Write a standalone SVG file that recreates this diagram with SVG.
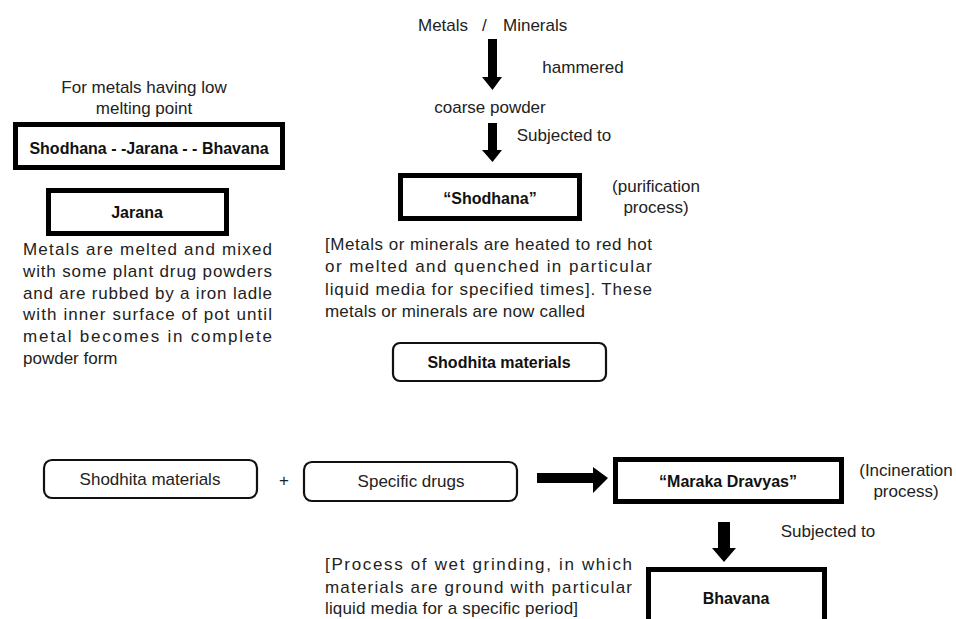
<svg xmlns="http://www.w3.org/2000/svg" width="956" height="619" viewBox="0 0 956 619">
<style>
text{font-family:"Liberation Sans",Arial,sans-serif;font-size:17px;fill:#222}
.c{text-anchor:middle}
.b{font-weight:bold;fill:#111;font-size:16px}
.thick{fill:#fff;stroke:#000;stroke-width:5}
.thin{fill:#fff;stroke:#111;stroke-width:2.2}
.arr{fill:#000}
</style>
<rect width="956" height="619" fill="#fff"/>
<g id="connectors">
<polygon class="arr" points="488,39 497,39 497,77 502,77 492.5,90 482,77 488,77"/>
<polygon class="arr" points="488,123 497,123 497,150 502,150 492.5,162 482,150 488,150"/>
<polygon class="arr" points="537,473 593,473 593,467 608,478 593,493 593,483 537,483"/>
<polygon class="arr" points="718,522 730,522 730,548 736,548 724,562 712,548 718,548"/>
</g>
<g id="metals-minerals"><text y="31"><tspan x="418">Metals</tspan><tspan x="482">/</tspan><tspan x="503">Minerals</tspan></text></g>
<g id="hammered"><text class="c" x="583" y="73">hammered</text></g>
<g id="coarse-powder"><text class="c" x="490" y="113">coarse powder</text></g>
<g id="subjected-1"><text class="c" x="564" y="141">Subjected to</text></g>
<g id="shodhana">
<rect class="thick" x="400.5" y="175.5" width="179" height="43"/>
<text class="c b" x="490" y="204">“Shodhana”</text>
</g>
<g id="purification"><text class="c" x="656" y="192">(purification</text><text class="c" x="656" y="213">process)</text></g>
<g id="shodhana-desc">
<text x="325" y="250" textLength="327" lengthAdjust="spacing">[Metals or minerals are heated to red hot</text>
<text x="325" y="272" textLength="327" lengthAdjust="spacing">or melted and quenched in particular</text>
<text x="325" y="295" textLength="327" lengthAdjust="spacing">liquid media for specified times]. These</text>
<text x="325" y="317" textLength="260" lengthAdjust="spacing">metals or minerals are now called</text>
</g>
<g id="shodhita-top">
<rect class="thin" x="393" y="343" width="213" height="38" rx="7"/>
<text class="c b" x="499" y="368">Shodhita materials</text>
</g>
<g id="low-melting"><text class="c" x="144" y="93">For metals having low</text><text class="c" x="144" y="114">melting point</text></g>
<g id="sjb">
<rect class="thick" x="15.5" y="124.5" width="267" height="43"/>
<text class="c b" x="149" y="154">Shodhana - -Jarana - - Bhavana</text>
</g>
<g id="jarana">
<rect class="thick" x="48.5" y="190.5" width="178" height="43"/>
<text class="c b" x="137" y="218">Jarana</text>
</g>
<g id="jarana-desc">
<text x="23" y="255" textLength="249" lengthAdjust="spacing">Metals are melted and mixed</text>
<text x="23" y="277" textLength="249" lengthAdjust="spacing">with some plant drug powders</text>
<text x="23" y="299" textLength="249" lengthAdjust="spacing">and are rubbed by a iron ladle</text>
<text x="23" y="320" textLength="249" lengthAdjust="spacing">with inner surface of pot until</text>
<text x="23" y="342" textLength="249" lengthAdjust="spacing">metal becomes in complete</text>
<text x="23" y="364">powder form</text>
</g>
<g id="shodhita-bottom">
<rect class="thin" x="44" y="460" width="213" height="38" rx="8"/>
<text class="c" x="150" y="485">Shodhita materials</text>
</g>
<g id="plus"><text class="c" x="284" y="486">+</text></g>
<g id="specific-drugs">
<rect class="thin" x="304" y="462" width="213" height="39" rx="8"/>
<text class="c" x="411" y="487">Specific drugs</text>
</g>
<g id="maraka">
<rect class="thick" x="615.5" y="459.5" width="226" height="42"/>
<text class="c b" x="728" y="487">“Maraka Dravyas”</text>
</g>
<g id="incineration"><text class="c" x="906" y="476">(Incineration</text><text class="c" x="906" y="497">process)</text></g>
<g id="subjected-2"><text class="c" x="828" y="537">Subjected to</text></g>
<g id="bhavana">
<rect class="thick" x="648.5" y="569.5" width="176" height="60"/>
<text class="c b" x="736" y="604">Bhavana</text>
</g>
<g id="bhavana-desc">
<text x="325" y="570" textLength="307" lengthAdjust="spacing">[Process of wet grinding, in which</text>
<text x="325" y="593" textLength="307" lengthAdjust="spacing">materials are ground with particular</text>
<text x="325" y="614" textLength="253" lengthAdjust="spacing">liquid media for a specific period]</text>
</g>
</svg>
